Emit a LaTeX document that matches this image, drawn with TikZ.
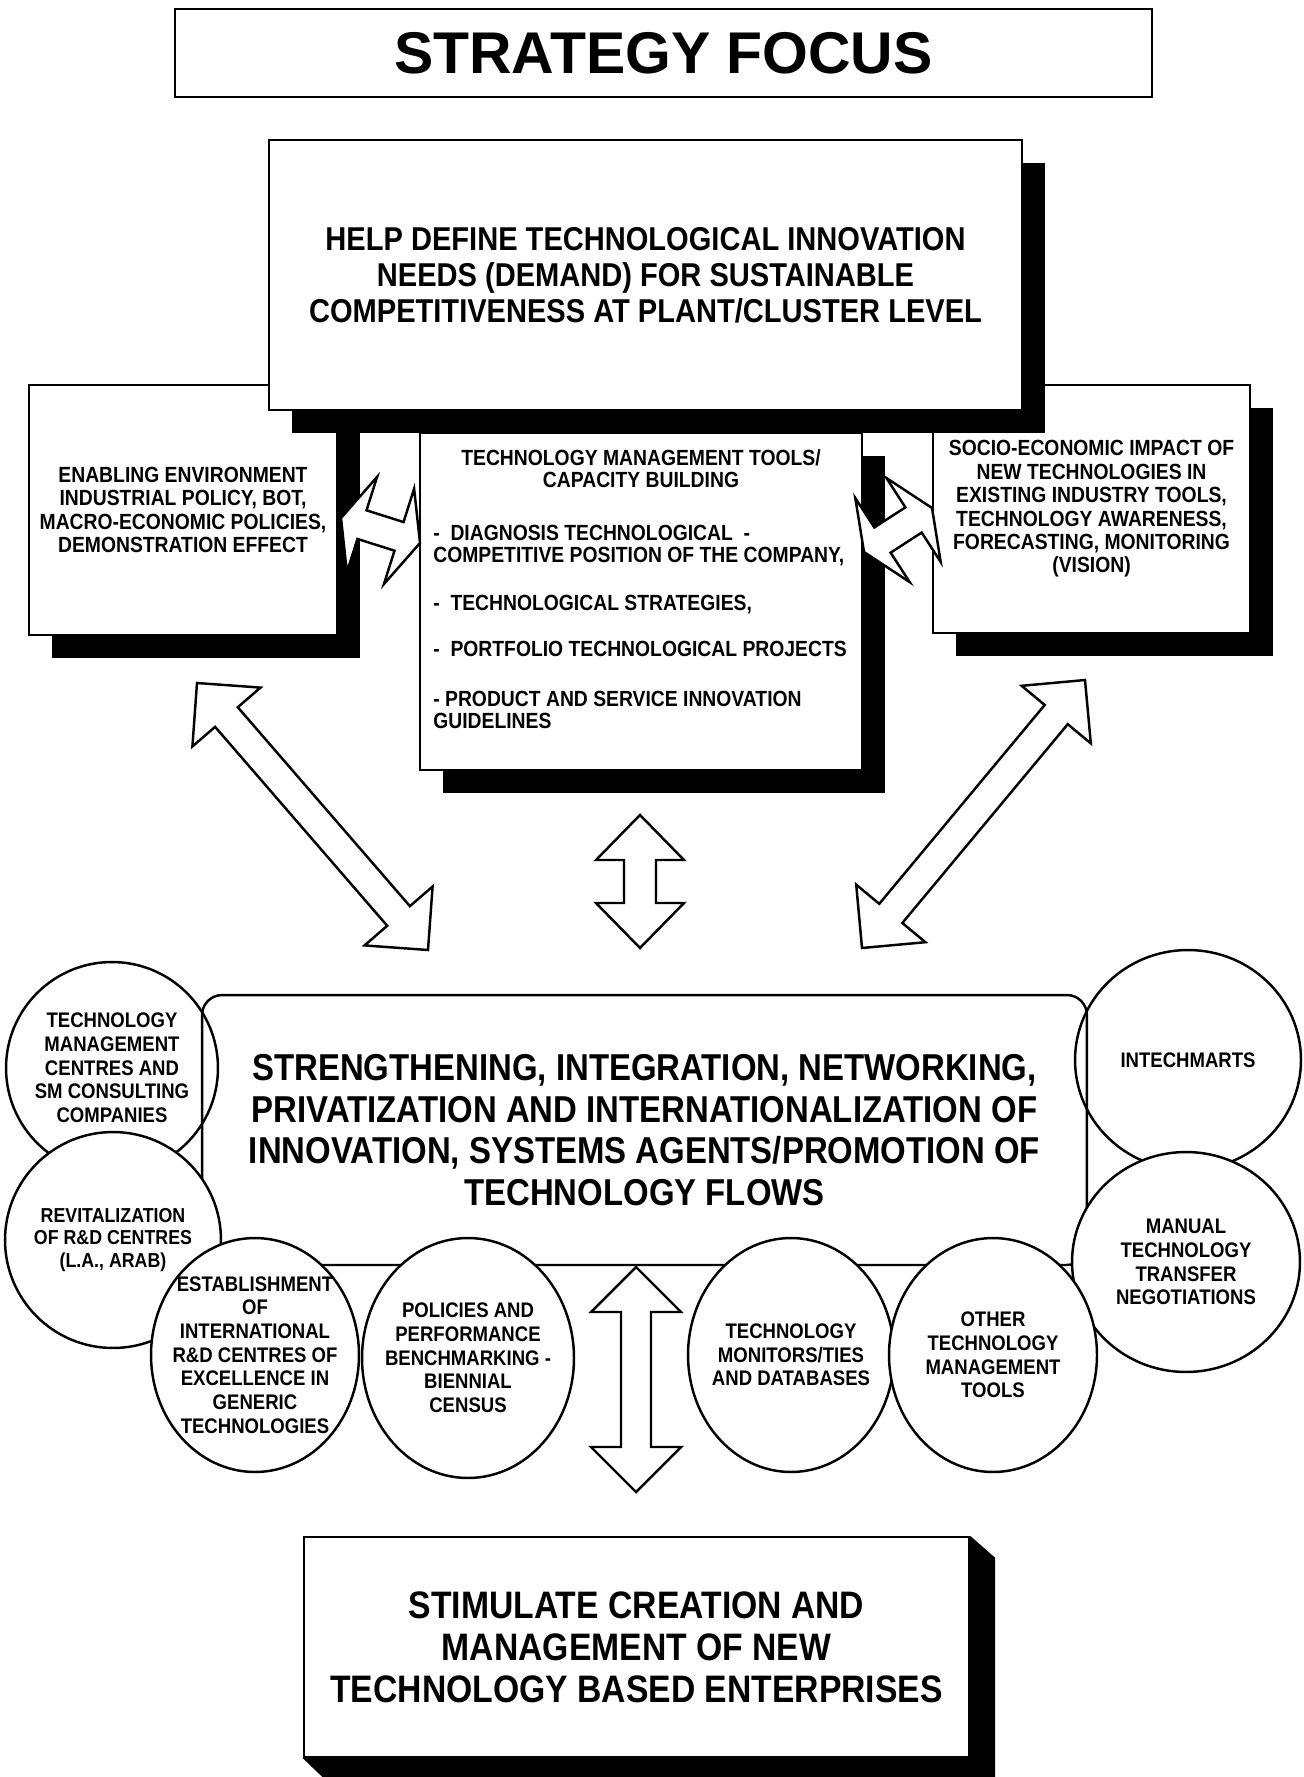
\documentclass[tikz,border=0pt]{standalone}
\usepackage{fontspec}
\setmainfont{Liberation Sans}
\newfontfamily\nf{Liberation Sans}[FakeStretch=0.88]
\usetikzlibrary{calc,shapes.geometric,shadows}
\newcommand\fntBox{\nf\bfseries\fontsize{12.5}{13.3}\selectfont}
\newcommand\fntTools{\nf\bfseries\fontsize{12.5}{12.5}\selectfont}
\newcommand\fntBub{\nf\bfseries\fontsize{12}{13.5}\selectfont}
\newcommand\fntBig{\nf\bfseries\fontsize{21.3}{23.7}\selectfont}
\tikzset{
  box/.style={draw, line width=1.4pt, fill=white, rectangle, inner sep=0pt, align=center},
  shad/.style={drop shadow={shadow xshift=0.46cm, shadow yshift=-0.46cm, fill=black, opacity=1}},
  blockarrow/.style={draw, line width=1.4pt, fill=white, line join=miter},
  bubble/.style={draw, ellipse, line width=1.4pt, fill=white, inner sep=0pt},
  btext/.style={font=\fntBub, align=center, inner sep=0pt},
  txt/.style={inner sep=0pt},
}
% double block arrow between two tips: #1,#2 tips; #3 head length; #4 head half width; #5 shaft half width (px)
\newcommand\dblarrow[5]{%
  \coordinate (da-a1) at ($(#1)!#3*0.02cm!(#2)$);
  \coordinate (da-b1) at ($(#2)!#3*0.02cm!(#1)$);
  \draw[blockarrow] (#1)
    -- ($(da-a1)!#4*0.02cm!90:(#2)$)
    -- ($(da-a1)!#5*0.02cm!90:(#2)$)
    -- ($(da-b1)!#5*0.02cm!-90:(#1)$)
    -- ($(da-b1)!#4*0.02cm!-90:(#1)$)
    -- (#2)
    -- ($(da-b1)!#4*0.02cm!90:(#1)$)
    -- ($(da-b1)!#5*0.02cm!90:(#1)$)
    -- ($(da-a1)!#5*0.02cm!-90:(#2)$)
    -- ($(da-a1)!#4*0.02cm!-90:(#2)$)
    -- cycle;}
\begin{document}
\begin{tikzpicture}[x=0.02cm,y=-0.02cm]
\useasboundingbox (0,0) rectangle (1304,1777);

% title
\node[box, minimum width=19.54cm, minimum height=1.76cm,
      font=\bfseries\fontsize{33.5}{38}\selectfont] (title) at (663.5,53) {STRATEGY FOCUS};

% side boxes
\node[box, shad, minimum width=6.16cm, minimum height=5cm, font=\fntBox] (env) at (183,510)
  {ENABLING ENVIRONMENT\\INDUSTRIAL POLICY, BOT,\\MACRO-ECONOMIC POLICIES,\\DEMONSTRATION EFFECT};
\node[box, shad, minimum width=6.34cm, minimum height=4.96cm, font=\fntBox] (socio) at (1091.5,509)
  {SOCIO-ECONOMIC IMPACT OF\\NEW TECHNOLOGIES IN\\EXISTING INDUSTRY TOOLS,\\TECHNOLOGY AWARENESS,\\FORECASTING, MONITORING\\(VISION)};

% main top box
\node[box, shad, minimum width=15.06cm, minimum height=5.4cm,
      font=\nf\bfseries\fontsize{18.8}{20.5}\selectfont] (help) at (645.5,275)
  {HELP DEFINE TECHNOLOGICAL INNOVATION\\NEEDS (DEMAND) FOR SUSTAINABLE\\COMPETITIVENESS AT PLANT/CLUSTER LEVEL};

% tools box
\node[box, shad, minimum width=8.84cm, minimum height=6.74cm] (tools) at (641,601.5) {};
\node[txt, font=\fntTools, align=center] (toolshead) at (641,469)
  {TECHNOLOGY MANAGEMENT TOOLS/\\CAPACITY BUILDING};
\node[txt, font=\fntTools, align=left, anchor=west] (toolslist) at (433,627)
  {-\ \ DIAGNOSIS TECHNOLOGICAL\ \ -\\
   COMPETITIVE POSITION OF THE COMPANY,\\[15pt]
   -\ \ TECHNOLOGICAL STRATEGIES,\\[13.5pt]
   -\ \ PORTFOLIO TECHNOLOGICAL PROJECTS\\[16pt]
   -\ PRODUCT AND SERVICE INNOVATION\\
   GUIDELINES};

% arrow tips
\coordinate (la1) at (341,518);  \coordinate (la2) at (420,543);
\coordinate (ra1) at (864,552);  \coordinate (ra2) at (932,508);
\coordinate (ld1) at (197,683);  \coordinate (ld2) at (428,950);
\coordinate (rd1) at (1085,680); \coordinate (rd2) at (862,948);
\coordinate (uv1) at (640,815);  \coordinate (uv2) at (640,948);
\coordinate (lv1) at (636,1267); \coordinate (lv2) at (636,1492);

\dblarrow{la1}{la2}{22}{50}{15}
\dblarrow{ra1}{ra2}{22}{50}{15}
\dblarrow{ld1}{ld2}{45}{45}{15}
\dblarrow{rd1}{rd2}{45}{45}{15}
\dblarrow{uv1}{uv2}{45}{44}{16}

% bubbles behind the core box
\node[bubble, minimum width=4.24cm, minimum height=4.24cm,
  label={[btext]center:TECHNOLOGY\\MANAGEMENT\\CENTRES AND\\SM CONSULTING\\COMPANIES}] (e1) at (112,1068) {};
\node[bubble, minimum width=4.52cm, minimum height=4.4cm,
  label={[btext]center:INTECHMARTS}] (e7) at (1188,1060) {};

% core box
\node[draw, line width=1.4pt, rounded corners=0.4cm, minimum width=17.7cm, minimum height=5.4cm,
      inner sep=0pt, align=center, font=\fntBig] (core) at (644.5,1130)
  {STRENGTHENING, INTEGRATION, NETWORKING,\\PRIVATIZATION AND INTERNATIONALIZATION OF\\INNOVATION, SYSTEMS AGENTS/PROMOTION OF\\TECHNOLOGY FLOWS};

% bubbles in front
\node[bubble, minimum width=4.32cm, minimum height=4.32cm,
  label={[btext, font=\nf\bfseries\fontsize{11.5}{13}\selectfont]center:REVITALIZATION\\OF R\&D CENTRES\\(L.A., ARAB)}] (e2) at (113,1240) {};
\node[bubble, minimum width=4.56cm, minimum height=4.4cm,
  label={[btext]center:MANUAL\\TECHNOLOGY\\TRANSFER\\NEGOTIATIONS}] (e8) at (1186,1262) {};
\node[bubble, minimum width=4.16cm, minimum height=4.68cm,
  label={[btext]center:ESTABLISHMENT\\OF\\INTERNATIONAL\\R\&D CENTRES OF\\EXCELLENCE IN\\GENERIC\\TECHNOLOGIES}] (e3) at (255,1355) {};
\node[bubble, minimum width=4.24cm, minimum height=4.8cm,
  label={[btext]center:POLICIES AND\\PERFORMANCE\\BENCHMARKING -\\BIENNIAL\\CENSUS}] (e4) at (468,1358) {};
\node[bubble, minimum width=4.12cm, minimum height=4.68cm,
  label={[btext]center:TECHNOLOGY\\MONITORS/TIES\\AND DATABASES}] (e5) at (791,1355) {};
\node[bubble, minimum width=4.16cm, minimum height=4.68cm,
  label={[btext]center:OTHER\\TECHNOLOGY\\MANAGEMENT\\TOOLS}] (e6) at (993,1355) {};

\dblarrow{lv1}{lv2}{45}{45}{15}

% bottom box with extruded shadow
\node[box, minimum width=13.3cm, minimum height=4.4cm,
      font=\nf\bfseries\fontsize{21.8}{23.8}\selectfont] (stim) at (636.5,1647)
  {STIMULATE CREATION AND\\MANAGEMENT OF NEW\\TECHNOLOGY BASED ENTERPRISES};
\fill[black] (stim.north east) -- ++(25,22) |- ($(stim.south west)+(25,24)$)
  -- (stim.south west) -- (stim.south east) -- cycle;
\end{tikzpicture}
\end{document}
